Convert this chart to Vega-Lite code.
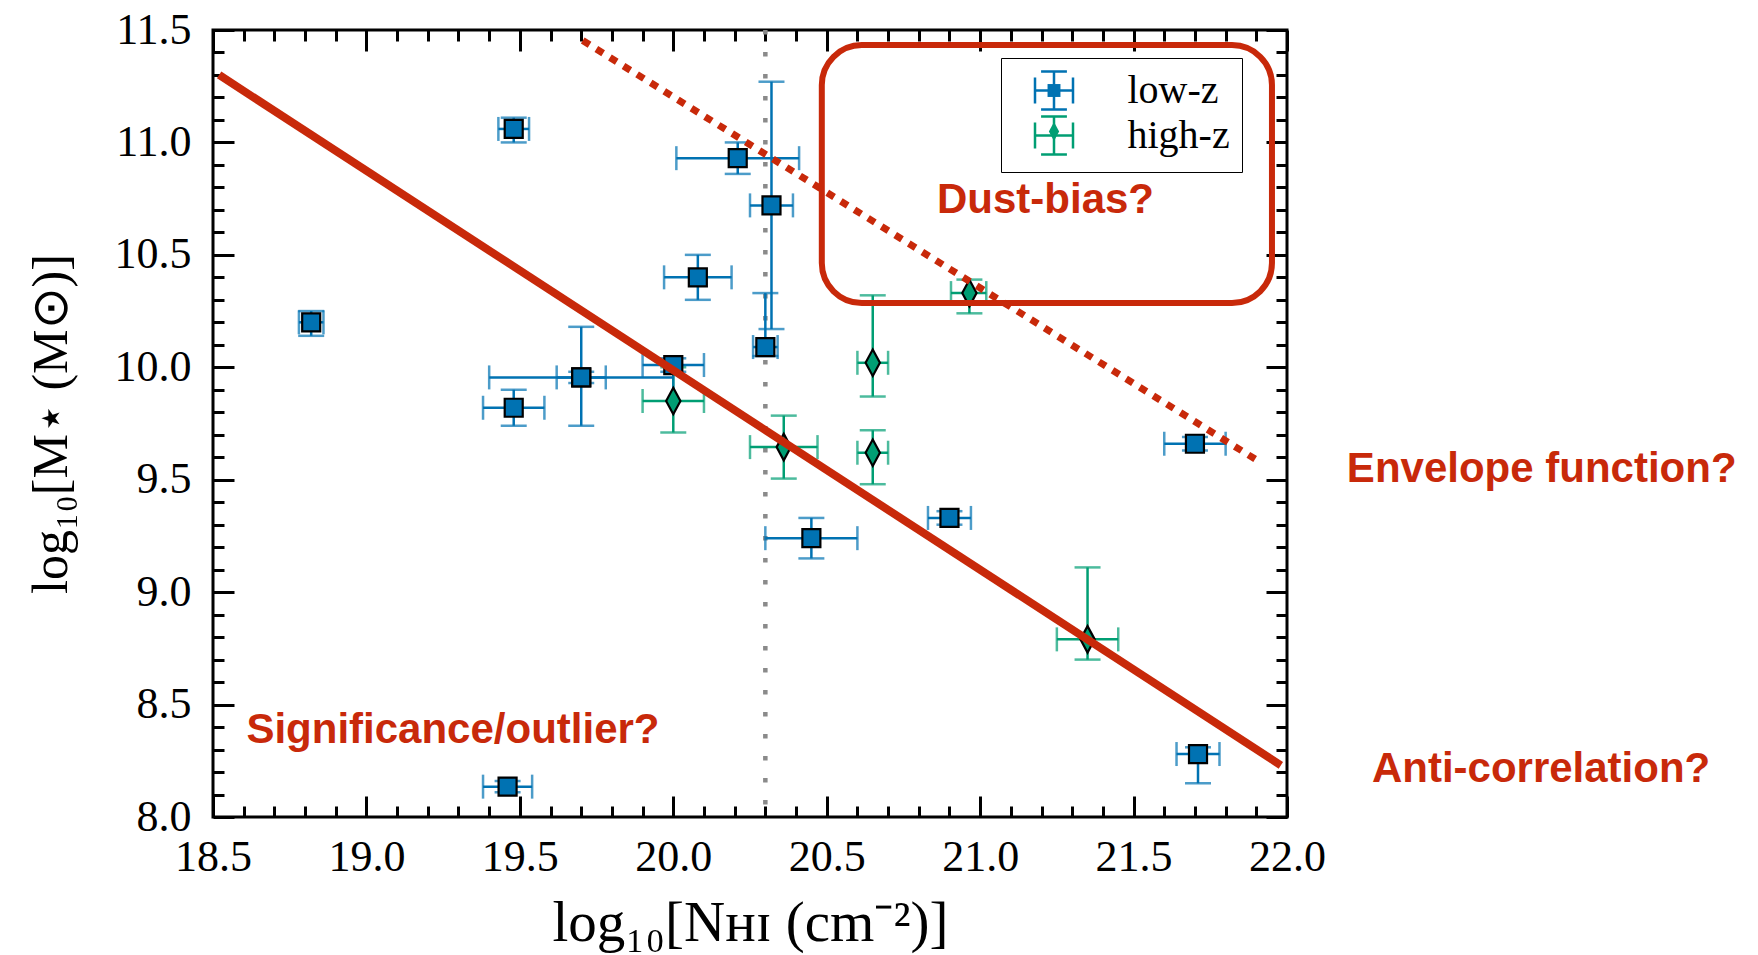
{
  "$schema": "https://vega.github.io/schema/vega-lite/v6.json",
  "width": 1074,
  "height": 787,
  "autosize": {"type": "none"},
  "padding": {"left": 213, "top": 30, "right": 471, "bottom": 138},
  "background": "white",
  "config": {
    "view": {"stroke": "black", "strokeWidth": 3},
    "axis": {"domain": false, "grid": false, "tickColor": "black", "tickWidth": 3, "labelColor": "black", "labelFont": "Liberation Serif", "labelFontSize": 44, "titleColor": "black", "titleFont": "Liberation Serif", "titleFontWeight": "normal", "labelOverlap": false, "labelFlush": false}
  },
  "datasets": {
    "obs": [
      {"sample": "low-z", "x": 18.82, "y": 10.2, "xlo": 18.78, "xhi": 18.86, "ylo": 10.14, "yhi": 10.25},
      {"sample": "low-z", "x": 19.48, "y": 11.06, "xlo": 19.43, "xhi": 19.53, "ylo": 11.0, "yhi": 11.11},
      {"sample": "low-z", "x": 20.21, "y": 10.93, "xlo": 20.01, "xhi": 20.41, "ylo": 10.86, "yhi": 11.0},
      {"sample": "low-z", "x": 20.32, "y": 10.72, "xlo": 20.25, "xhi": 20.39, "ylo": 10.17, "yhi": 11.27},
      {"sample": "low-z", "x": 20.3, "y": 10.09, "xlo": 20.26, "xhi": 20.34, "ylo": 10.05, "yhi": 10.33},
      {"sample": "low-z", "x": 20.08, "y": 10.4, "xlo": 19.97, "xhi": 20.19, "ylo": 10.3, "yhi": 10.5},
      {"sample": "low-z", "x": 19.7, "y": 9.955, "xlo": 19.4, "xhi": 20.0, "ylo": 9.74, "yhi": 10.18},
      {"sample": "low-z", "x": 19.7, "y": 9.955, "xlo": 19.62, "xhi": 19.78, "ylo": 9.93, "yhi": 9.98},
      {"sample": "low-z", "x": 20.0, "y": 10.01, "xlo": 19.9, "xhi": 20.1, "ylo": 9.98, "yhi": 10.04},
      {"sample": "low-z", "x": 19.48, "y": 9.82, "xlo": 19.38, "xhi": 19.58, "ylo": 9.74, "yhi": 9.9},
      {"sample": "low-z", "x": 20.45, "y": 9.24, "xlo": 20.3, "xhi": 20.6, "ylo": 9.15, "yhi": 9.33},
      {"sample": "low-z", "x": 20.9, "y": 9.33, "xlo": 20.83, "xhi": 20.97, "ylo": 9.3, "yhi": 9.36},
      {"sample": "low-z", "x": 21.7, "y": 9.66, "xlo": 21.6, "xhi": 21.8, "ylo": 9.63, "yhi": 9.69},
      {"sample": "low-z", "x": 21.71, "y": 8.28, "xlo": 21.64, "xhi": 21.78, "ylo": 8.15, "yhi": 8.31},
      {"sample": "low-z", "x": 19.46, "y": 8.135, "xlo": 19.38, "xhi": 19.54, "ylo": 8.11, "yhi": 8.16},
      {"sample": "high-z", "x": 20.0, "y": 9.85, "xlo": 19.9, "xhi": 20.1, "ylo": 9.71, "yhi": 10.0},
      {"sample": "high-z", "x": 20.36, "y": 9.645, "xlo": 20.25, "xhi": 20.47, "ylo": 9.505, "yhi": 9.785},
      {"sample": "high-z", "x": 20.65, "y": 10.02, "xlo": 20.6, "xhi": 20.7, "ylo": 9.87, "yhi": 10.32},
      {"sample": "high-z", "x": 20.65, "y": 9.62, "xlo": 20.6, "xhi": 20.7, "ylo": 9.48, "yhi": 9.72},
      {"sample": "high-z", "x": 20.965, "y": 10.33, "xlo": 20.905, "xhi": 21.02, "ylo": 10.24, "yhi": 10.39},
      {"sample": "high-z", "x": 21.35, "y": 8.79, "xlo": 21.25, "xhi": 21.45, "ylo": 8.7, "yhi": 9.11}
    ],
    "fit": [{"x": 18.52, "y": 11.3}, {"x": 21.98, "y": 8.23}],
    "envelope": [{"x": 19.705, "y": 11.453}, {"x": 21.91, "y": 9.58}],
    "cut": [{"x": 20.3}],
    "box": [{"x1": 20.484, "x2": 21.951, "y1": 10.286, "y2": 11.433}],
    "notes": [
      {"label": "Dust-bias?", "x": 21.213, "y": 10.746},
      {"label": "Envelope function?", "x": 22.83, "y": 9.549},
      {"label": "Anti-correlation?", "x": 22.828, "y": 8.213},
      {"label": "Significance/outlier?", "x": 19.282, "y": 8.387}
    ]
  },
  "data": {"name": "obs"},
  "resolve": {"axis": {"x": "independent", "y": "independent"}},
  "layer": [
    {
      "data": {"name": "cut"},
      "mark": {"type": "rule", "color": "#8a8a8a", "strokeWidth": 4.5, "strokeDash": [4.5, 17.5]},
      "encoding": {
        "x": {"field": "x", "type": "quantitative", "axis": null, "scale": {"domain": [18.5, 22], "nice": false, "zero": false}}
      }
    },
    {
      "mark": {"type": "errorbar", "ticks": true, "size": 26, "thickness": 2.5},
      "encoding": {
        "x": {"field": "x", "type": "quantitative", "axis": null, "scale": {"domain": [18.5, 22], "nice": false, "zero": false}},
        "y": {"field": "ylo", "type": "quantitative", "axis": null, "scale": {"domain": [8, 11.5], "nice": false, "zero": false}},
        "y2": {"field": "yhi"},
        "color": {
          "field": "sample", "type": "nominal", "sort": "descending",
          "scale": {"range": ["#0072b2", "#009e73"]},
          "legend": {
            "orient": "none", "legendX": 788, "legendY": 28, "title": null, "direction": "vertical",
            "symbolType": "M-1,0H1M-1,-0.68V0.68M1,-0.68V0.68M0,-1V1M-0.68,-1H0.68M-0.68,1H0.68",
            "symbolSize": 1444, "symbolStrokeWidth": 2.5, "symbolFillColor": "transparent", "symbolOffset": 20.5,
            "labelFont": "Liberation Serif", "labelFontSize": 40, "labelColor": "black", "labelOffset": 53, "labelLimit": 400,
            "padding": 12, "rowPadding": -8, "strokeColor": "black", "fillColor": "white", "cornerRadius": 0,
            "encode": {"legend": {"strokeWidth": {"value": 2.5}}}
          }
        }
      }
    },
    {
      "mark": {"type": "errorbar", "ticks": true, "size": 24, "thickness": 2.5},
      "encoding": {
        "y": {"field": "y", "type": "quantitative", "axis": null, "scale": {"domain": [8, 11.5], "nice": false, "zero": false}},
        "x": {"field": "xlo", "type": "quantitative", "axis": null, "scale": {"domain": [18.5, 22], "nice": false, "zero": false}},
        "x2": {"field": "xhi"},
        "color": {"field": "sample", "type": "nominal", "sort": "descending", "legend": null}
      }
    },
    {
      "mark": {"type": "point", "filled": true, "opacity": 1, "stroke": "black", "strokeWidth": 2.2, "size": 2809},
      "encoding": {
        "x": {
          "field": "x", "type": "quantitative", "scale": {"domain": [18.5, 22], "nice": false, "zero": false},
          "axis": {
            "orient": "bottom",
            "values": [18.5,18.6,18.7,18.8,18.9,19,19.1,19.2,19.3,19.4,19.5,19.6,19.7,19.8,19.9,20,20.1,20.2,20.3,20.4,20.5,20.6,20.7,20.8,20.9,21,21.1,21.2,21.3,21.4,21.5,21.6,21.7,21.8,21.9,22],
            "tickSize": {"condition": {"test": "abs(datum.value*2-round(datum.value*2))<0.001", "value": -21}, "value": -11},
            "labelExpr": "abs(datum.value*2-round(datum.value*2))<0.001 ? format(datum.value, '.1f') : ''",
            "labelPadding": 39,
            "title": "log₁₀[Nʜɪ (cm⁻²)]", "titleFontSize": 57, "titlePadding": 6
          }
        },
        "y": {
          "field": "y", "type": "quantitative", "scale": {"domain": [8, 11.5], "nice": false, "zero": false},
          "axis": {
            "orient": "left",
            "values": [8,8.1,8.2,8.3,8.4,8.5,8.6,8.7,8.8,8.9,9,9.1,9.2,9.3,9.4,9.5,9.6,9.7,9.8,9.9,10,10.1,10.2,10.3,10.4,10.5,10.6,10.7,10.8,10.9,11,11.1,11.2,11.3,11.4,11.5],
            "tickSize": {"condition": {"test": "abs(datum.value*2-round(datum.value*2))<0.001", "value": -21}, "value": -11},
            "labelExpr": "abs(datum.value*2-round(datum.value*2))<0.001 ? format(datum.value, '.1f') : ''",
            "labelPadding": 43,
            "title": "log₁₀[M⋆ (M⊙)]", "titleFontSize": 50, "titlePadding": 38
          }
        },
        "fill": {
          "field": "sample", "type": "nominal",
          "scale": {"domain": ["low-z", "high-z"], "range": ["#0072b2", "#009e73"]},
          "legend": {
            "orient": "none", "legendX": 788, "legendY": 28, "title": null, "direction": "vertical",
            "symbolSize": 1444, "symbolStrokeColor": "black", "symbolStrokeWidth": 2.5, "symbolOffset": 20.5,
            "labelFont": "Liberation Serif", "labelFontSize": 40, "labelExpr": "' '", "labelOffset": 53, "labelLimit": 400,
            "padding": 12, "rowPadding": -8, "strokeColor": "transparent", "fillColor": "transparent"
          }
        },
        "shape": {
          "field": "sample", "type": "nominal",
          "scale": {"domain": ["low-z", "high-z"], "range": ["M-0.34,-0.34H0.34V0.34H-0.34Z", "M0,-0.5L0.27,0L0,0.5L-0.27,0Z"]},
          "legend": {
            "orient": "none", "legendX": 788, "legendY": 28, "title": null, "direction": "vertical",
            "symbolSize": 1444, "symbolStrokeColor": "black", "symbolStrokeWidth": 2.5, "symbolOffset": 20.5,
            "labelFont": "Liberation Serif", "labelFontSize": 40, "labelExpr": "' '", "labelOffset": 53, "labelLimit": 400,
            "padding": 12, "rowPadding": -8, "strokeColor": "transparent", "fillColor": "transparent"
          }
        }
      }
    },
    {
      "data": {"name": "fit"},
      "mark": {"type": "line", "color": "#c8290a", "strokeWidth": 8, "strokeCap": "butt"},
      "encoding": {
        "x": {
          "field": "x", "type": "quantitative", "scale": {"domain": [18.5, 22], "nice": false, "zero": false},
          "axis": {
            "orient": "top", "labels": false, "title": null,
            "values": [18.5,18.6,18.7,18.8,18.9,19,19.1,19.2,19.3,19.4,19.5,19.6,19.7,19.8,19.9,20,20.1,20.2,20.3,20.4,20.5,20.6,20.7,20.8,20.9,21,21.1,21.2,21.3,21.4,21.5,21.6,21.7,21.8,21.9,22],
            "tickSize": {"condition": {"test": "abs(datum.value*2-round(datum.value*2))<0.001", "value": -21}, "value": -11}
          }
        },
        "y": {
          "field": "y", "type": "quantitative", "scale": {"domain": [8, 11.5], "nice": false, "zero": false},
          "axis": {
            "orient": "right", "labels": false, "title": null,
            "values": [8,8.1,8.2,8.3,8.4,8.5,8.6,8.7,8.8,8.9,9,9.1,9.2,9.3,9.4,9.5,9.6,9.7,9.8,9.9,10,10.1,10.2,10.3,10.4,10.5,10.6,10.7,10.8,10.9,11,11.1,11.2,11.3,11.4,11.5],
            "tickSize": {"condition": {"test": "abs(datum.value*2-round(datum.value*2))<0.001", "value": -21}, "value": -11}
          }
        }
      }
    },
    {
      "data": {"name": "envelope"},
      "mark": {"type": "line", "color": "#c8290a", "strokeWidth": 7, "strokeDash": [8, 8], "strokeCap": "butt"},
      "encoding": {
        "x": {"field": "x", "type": "quantitative", "axis": null, "scale": {"domain": [18.5, 22], "nice": false, "zero": false}},
        "y": {"field": "y", "type": "quantitative", "axis": null, "scale": {"domain": [8, 11.5], "nice": false, "zero": false}}
      }
    },
    {
      "data": {"name": "box"},
      "mark": {"type": "rect", "fill": "transparent", "stroke": "#c8290a", "strokeWidth": 6, "cornerRadius": 40},
      "encoding": {
        "x": {"field": "x1", "type": "quantitative", "axis": null, "scale": {"domain": [18.5, 22], "nice": false, "zero": false}},
        "x2": {"field": "x2"},
        "y": {"field": "y1", "type": "quantitative", "axis": null, "scale": {"domain": [8, 11.5], "nice": false, "zero": false}},
        "y2": {"field": "y2"}
      }
    },
    {
      "data": {"name": "notes"},
      "mark": {"type": "text", "font": "Liberation Sans", "fontWeight": "bold", "fontSize": 42, "color": "#c8290a", "align": "center", "baseline": "middle"},
      "encoding": {
        "x": {"field": "x", "type": "quantitative", "axis": null, "scale": {"domain": [18.5, 22], "nice": false, "zero": false}},
        "y": {"field": "y", "type": "quantitative", "axis": null, "scale": {"domain": [8, 11.5], "nice": false, "zero": false}},
        "text": {"field": "label", "type": "nominal"}
      }
    }
  ]
}
